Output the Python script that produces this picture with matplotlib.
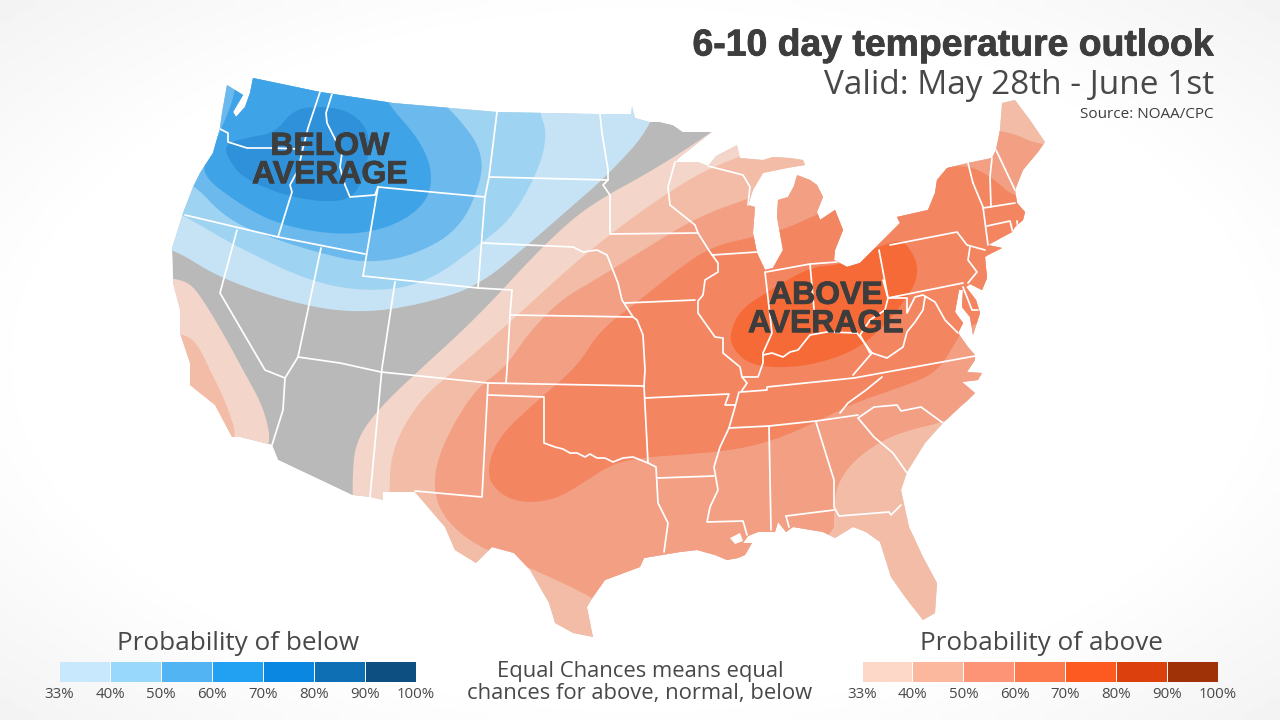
import numpy as np
import matplotlib
matplotlib.use("Agg")
import matplotlib.pyplot as plt
import matplotlib.patheffects as pe
from matplotlib.patches import Polygon, Rectangle

# ---------- text ----------
title = "6-10 day temperature outlook"
subtitle = "Valid: May 28th - June 1st"
source = "Source: NOAA/CPC"
note_lines = ["Equal Chances means equal", "chances for above, normal, below"]
legend_ticks = ["33%", "40%", "50%", "60%", "70%", "80%", "90%", "100%"]
below_colors = ["#c8e9fd", "#98d8fd", "#52b4f2", "#22a0f2", "#0a87e0", "#0f6fb5", "#0c4f80"]
above_colors = ["#fdd8c9", "#fcb89f", "#fc9475", "#fc7a4e", "#fc5a20", "#dc400c", "#a03208"]

# ---------- map geometry (pixel positions) ----------
outline = [(253,78),(320,92),(393,103),(497,112),(600,114),(631,114),(632,106),(635,118),(650,122),(660,122),
 (673,125),(683,132),(712,132),(698,143),(680,157),(675,162),(698,162),(708,166),(716,156),(737,145),(740,158),
 (763,160),(773,157),(790,158),(803,160),(805,165),(787,168),(763,173),(753,190),(748,205),(755,207),(753,233),(757,253),
 (765,270),(773,268),(783,250),(777,217),(778,200),(788,197),(794,186),(797,175),(810,180),(817,185),(823,197),(817,212),(820,220),
 (835,210),(843,230),(835,250),(834,260),(847,267),(860,263),(900,223),(897,217),(928,210),(935,193),(937,180),
 (947,168),(968,163),(992,158),(996,150),(1000,130),(1002,103),(1015,100),(1030,120),(1045,142),(1038,152),
 (1023,170),(1015,190),(1017,203),(1025,212),(1023,220),(1015,227),(1012,232),(988,245),(1002,248),(988,255),(985,257),(987,278),(982,290),
 (970,284),(966,287),(976,300),(980,313),(973,335),(970,317),(962,307),(963,290),(959,290),(955,312),(963,323),(958,333),(968,347),(975,355),
 (975,360),(967,372),(982,373),(978,380),(962,382),(975,393),(968,400),
 (960,407),(943,423),(925,443),(907,472),(901,490),(909,527),(923,557),(937,583),(935,613),(923,620),
 (905,597),(891,577),(880,542),(866,532),(853,527),(835,538),(823,532),(793,527),(786,532),(778,522),(775,532),(758,532),
 (748,536),(743,543),(752,543),(745,555),(738,558),(727,560),(715,555),(697,550),(680,552),(644,558),(640,567),(605,580),
 (593,597),(587,607),(593,637),(573,633),(555,623),(549,603),(530,570),(514,553),(492,547),(476,563),
 (455,550),(445,527),(415,492),(383,492),(383,500),(370,497),(352,495),(278,460),(272,445),(240,437),(232,437),
 (215,405),(190,385),(190,363),(180,333),(180,310),(173,283),(172,248),(183,213),(193,187),(200,173),
 (213,153),(220,128),(222,113),(227,85),(243,95),(233,112),(236,117),(245,107),(250,93)]
puget_island = [(238,104),(243,103),(241,109),(237,109)]
pontchartrain = [(730,538),(740,533),(743,541),(735,544)]

borders = [
 [(218,128),(228,133),(228,142),(247,148),(272,148),(300,149)],
 [(320,92),(308,128),(303,148),(298,170),(290,185),(292,192),(278,237)],
 [(332,94),(326,113),(327,123),(333,135),(338,145),(342,153),(340,167),(345,185),(350,197),(375,195),(378,187)],
 [(378,187),(485,197)], [(378,187),(363,276)], [(363,276),(478,288),(512,290)],
 [(497,112),(489,177),(485,197),(478,288)], [(489,177),(608,180)],
 [(600,114),(602,133),(608,170),(608,180),(603,185),(610,195),(610,233)],
 [(483,243),(573,247),(583,252),(597,250),(607,255),(618,283),(622,300),(633,317),(637,320),(643,335),(645,370),(644,386)],
 [(512,290),(510,315),(507,370),(506,383)], [(510,315),(633,317)],
 [(610,234),(698,233)], [(625,303),(695,300)],
 [(298,357),(340,363),(381,372),(488,383),(644,386)],
 [(488,383),(482,497),(415,491)], [(488,395),(544,397),(544,443),(555,447),(563,449),(570,453),(577,453),(585,457),(590,454),(597,458),(605,458),(613,462),(623,458),(633,457),(648,463),(656,467),(658,503),(668,523),(664,552)],
 [(644,386),(648,463)], [(645,398),(729,394),(725,405),(735,405)], [(658,478),(714,476)],
 [(739,392),(735,407),(729,428),(720,447),(714,467),(718,490),(710,507),(707,522),(743,521),(747,535)],
 [(741,392),(767,390),(767,387),(854,378),(975,356)],
 [(729,428),(769,426),(816,421),(858,415)], [(840,413),(848,403),(866,390),(882,377)],
 [(858,418),(874,407),(897,405),(901,411),(921,407),(943,423)], [(858,418),(874,437),(893,453),(907,473)],
 [(816,422),(834,480),(834,507),(839,516),(889,512),(891,515),(901,505)], [(786,516),(834,510)], [(786,516),(789,527)],
 [(769,426),(771,530)],
 [(765,272),(772,333),(763,353),(763,363),(758,377),(743,377)],
 [(763,355),(772,353),(783,357),(790,352),(798,350),(810,335),(827,332),(857,333),(872,353)],
 [(698,302),(698,313),(715,337),(723,338),(723,353),(740,367),(742,377),(747,383),(741,392)],
 [(698,233),(710,252),(718,263),(718,272),(705,280),(703,295),(698,301)],
 [(712,255),(757,252)],
 [(675,162),(668,187),(670,205),(695,225),(698,233)], [(708,166),(743,175),(750,187),(748,205)],
 [(766,272),(810,264),(837,262)], [(810,264),(815,320),(817,333)],
 [(879,250),(888,298)], [(883,280),(888,298),(885,310),(870,320),(860,335),(870,353)],
 [(872,353),(887,358),(903,347),(907,332),(915,322),(923,310),(925,297)],
 [(888,298),(907,298),(907,313),(915,297),(923,295),(935,302),(945,320),(958,333)],
 [(853,375),(872,353)],
 [(888,298),(963,283)], [(890,245),(957,232),(967,245),(985,250)],
 [(970,247),(968,260),(977,272),(968,283)], [(963,287),(972,310),(978,310)],
 [(968,163),(973,183),(983,207),(988,245)], [(992,158),(990,177),(991,207)], [(996,150),(1015,190)],
 [(983,208),(1015,203)], [(987,226),(1010,221),(1013,233)], [(1017,221),(1018,230)],
 [(237,230),(220,293),(265,370),(285,378),(283,410),(272,445)], [(285,378),(298,357),(321,248)],
 [(185,215),(278,237),(365,254)], [(395,282),(382,368),(370,497)],
]

zone_gray = outline
blue_33 = [(172,248),(223,280),(307,307),(367,313),(427,303),(480,285),(530,243),(570,208),(610,173),(653,125),(670,60),(150,60),(150,248)]
blue_40 = [(183,215),(237,247),(313,283),(373,292),(427,283),(483,242),(513,217),(540,167),(547,133),(540,113),(530,60),(150,60),(150,200)]
blue_50 = [(190,180),(227,220),(277,240),(320,253),(363,263),(410,257),(460,230),(483,177),(480,147),(460,120),(440,100),(430,60),(150,60),(150,170)]
blue_60 = [(200,173),(233,200),(278,225),(343,236),(393,227),(427,203),(433,173),(420,140),(387,103),(370,70),(237,70),(234,97),(225,120),(212,150)]
blue_70 = [(222,145),(235,170),(253,183),(293,198),(340,203),(360,190),(370,150),(367,127),(347,110),(317,106),(293,110),(275,133),(245,138)]

above_33 = [(740,110),(712,132),(657,168),(593,203),(560,230),(527,263),(493,300),(460,333),(427,363),(380,407),(356,440),(352,477),(354,540),(1100,700),(1100,90)]
above_33_ca = [(150,278),(172,278),(190,283),(203,300),(223,333),(243,370),(265,410),(272,450),(240,470),(150,470)]
above_40 = [(770,145),(710,168),(680,185),(640,212),(607,237),(570,267),(520,313),(459,367),(419,400),(391,450),(389,500),(389,700),(1100,700),(1100,90),(1000,90)]
above_40_ca = [(150,333),(182,333),(197,343),(210,370),(225,400),(240,445),(200,470),(150,470)]
above_50 = [(880,120),(805,160),(800,178),(753,197),(697,217),(640,252),(600,277),(560,300),(527,335),(506,367),(474,390),
            (443,443),(433,480),(439,510),(459,533),(484,549),(530,568),(593,597),(620,620),(834,545),(834,503),(838,483),(854,460),(886,438),(917,428),(945,422),(1100,350),(1100,140),(1045,148),(1002,128)]
above_60 = [(486,473),(498,437),(538,400),(577,367),(600,330),(640,300),(673,273),(710,247),(753,237),(783,230),(820,213),(880,190),(940,168),
            (968,165),(993,178),(1013,197),(1080,215),(1080,300),(967,323),(957,340),(937,373),(901,387),(854,403),(814,423),(775,440),
            (735,450),(680,455),(648,457),(613,463),(577,487),(553,500),(522,503),(498,493)]
above_70 = [(730,333),(740,310),(767,292),(810,267),(840,265),(870,250),(890,243),(903,240),(917,260),(917,280),(907,297),(887,323),(857,350),(813,365),(773,368),(747,363),(732,347)]

zone_colors = {"gray":"#b9b9b9","b33":"#c6e3f5","b40":"#9fd3f2","b50":"#6cb9ee","b60":"#3fa3e7","b70":"#2f91da",
               "a33":"#f3d6c9","a40":"#f3bca7","a50":"#f29f84","a60":"#f38561","a70":"#f56a36"}

def smooth(pts, n=3):
    p = np.array(pts, float)
    for _ in range(n):
        q = np.roll(p, -1, axis=0)
        p = np.column_stack([0.75*p + 0.25*q, 0.25*p + 0.75*q]).reshape(-1, 2)
    return p

# ---------- figure ----------
fig = plt.figure(figsize=(12.8, 7.2), dpi=100)
ax = fig.add_axes([0, 0, 1, 1])
ax.set_xlim(0, 1280); ax.set_ylim(720, 0); ax.axis("off")

yy, xx = np.mgrid[0:720:72j, 0:1280:128j]
r = np.sqrt(((xx-640)/640)**2 + ((yy-360)/360)**2)
vign = np.clip((r-0.95)/0.5, 0, 1)
ax.imshow(1-0.05*vign, extent=(0,1280,720,0), cmap="gray", vmin=0, vmax=1, aspect="auto", zorder=0, interpolation="bilinear")
ax.set_xlim(0, 1280); ax.set_ylim(720, 0)

clip = Polygon(outline, closed=True, transform=ax.transData, fc="none", ec="none")
ax.add_patch(clip)

layers = [(zone_gray,"gray",False),(blue_33,"b33",True),(blue_40,"b40",True),(blue_50,"b50",True),(blue_60,"b60",True),(blue_70,"b70",True),
          (above_33,"a33",True),(above_33_ca,"a33",True),(above_40,"a40",True),(above_40_ca,"a40",True),(above_50,"a50",True),(above_60,"a60",True),(above_70,"a70",True)]
for pts, key, sm in layers:
    poly = Polygon(smooth(pts) if sm else pts, closed=True, fc=zone_colors[key], ec="none", zorder=2)
    ax.add_patch(poly)
    poly.set_clip_path(clip)

ax.add_patch(Polygon(puget_island, closed=True, fc="white", ec="none", zorder=3))
ax.add_patch(Polygon(pontchartrain, closed=True, fc="white", ec="none", zorder=3))
for b in borders:
    arr = np.array(b, float)
    line, = ax.plot(arr[:,0], arr[:,1], color="white", lw=1.25, solid_joinstyle="round", solid_capstyle="round", zorder=4)
    line.set_clip_path(clip)

tc = "#3d3d3d"
soft = "#484848"
bold = ["Liberation Sans", "DejaVu Sans"]
reg = ["Open Sans", "DejaVu Sans"]
heavy = [pe.withStroke(linewidth=0.6, foreground=tc)]
ax.text(1214, 46, title, ha="right", va="center", fontsize=26.9, fontweight="bold", color=tc, family=bold, zorder=6, path_effects=heavy)
ax.text(1214, 86, subtitle, ha="right", va="center", fontsize=24, color=soft, family=reg, zorder=6)
ax.text(1214, 114, source, ha="right", va="center", fontsize=11, color=tc, family=reg, zorder=6)

for s, x, y in [("BELOW\nAVERAGE",330,161),("ABOVE\nAVERAGE",826,310)]:
    ax.text(x, y, s, ha="center", va="center", fontsize=23, fontweight="bold", color=tc, family=bold, linespacing=0.93, zorder=6, path_effects=heavy)

def legend(x0, x1, colors, head, headx):
    w = (x1-x0)/len(colors)
    for i, c in enumerate(colors):
        ax.add_patch(Rectangle((x0+i*w+0.5, 662), w-1, 20, fc=c, ec="none", zorder=5))
    for i, lab in enumerate(legend_ticks):
        ax.text(x0+i*w, 695, lab, ha="center", va="center", fontsize=10.8, color=soft, family=reg, zorder=6)
    ax.text(headx, 644, head, ha="center", va="center", fontsize=18.8, color=soft, family=reg, zorder=6)

legend(59, 416, below_colors, "Probability of below", 238)
legend(862, 1218, above_colors, "Probability of above", 1041)
ax.text(640, 672, note_lines[0], ha="center", va="center", fontsize=15.8, color=soft, family=reg, zorder=6)
ax.text(640, 694, note_lines[1], ha="center", va="center", fontsize=15.8, color=soft, family=reg, zorder=6)

fig.savefig("out.png", dpi=100)
